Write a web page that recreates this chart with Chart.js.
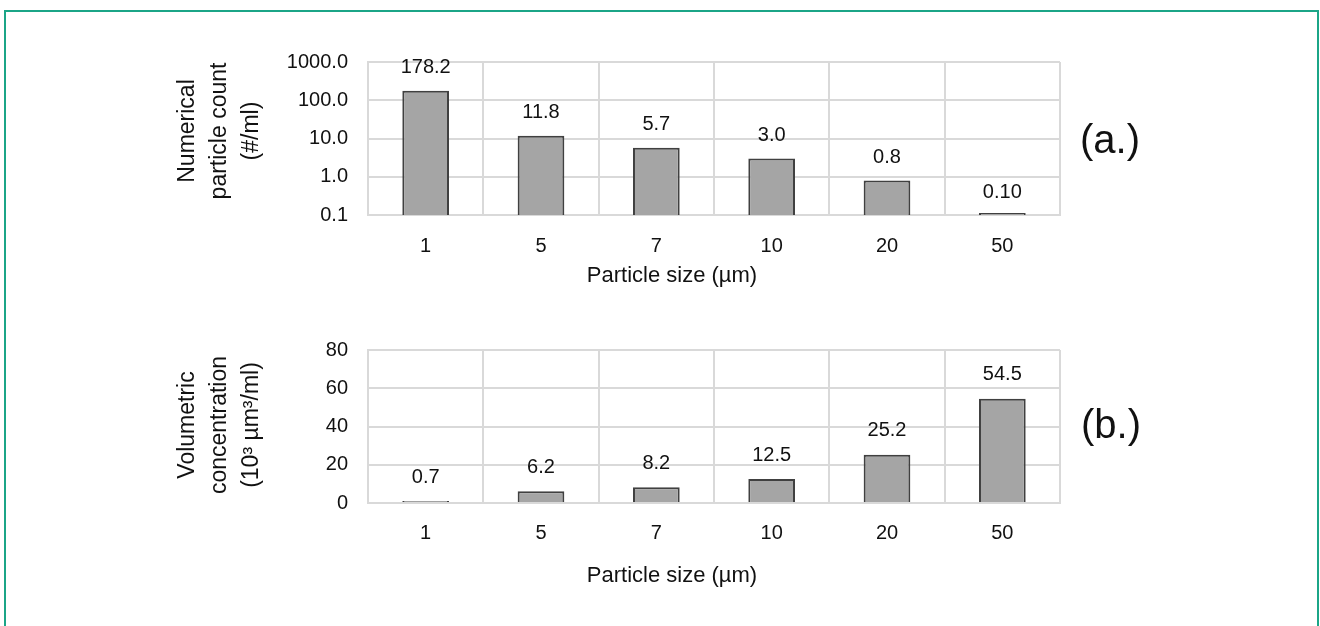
<!DOCTYPE html>
<html>
<head>
<meta charset="utf-8">
<script src="https://cdn.jsdelivr.net/npm/chart.js@4.4.1/dist/chart.umd.min.js"></script>
<style>
  html, body { margin: 0; padding: 0; background: #ffffff; }
  body { width: 1320px; height: 626px; position: relative; overflow: hidden; }
  #frame {
    position: absolute; left: 4px; top: 10px; width: 1311px; height: 700px;
    border: 2px solid #1ba587; border-bottom: none;
  }
  canvas { position: absolute; left: 0; }
  #countChart { top: 0; }
  #volumeChart { top: 300px; }
</style>
</head>
<body>
<div id="frame"></div>
<canvas id="countChart" width="1320" height="310"></canvas>
<canvas id="volumeChart" width="1320" height="326"></canvas>
<script>
// Particle size classes (µm)
const sizeLabels = ['1', '5', '7', '10', '20', '50'];
// (a.) numerical particle count, #/ml
const particleCounts = [178.2, 11.8, 5.7, 3.0, 0.8, 0.10];
// (b.) volumetric concentration, 10^3 µm^3/ml
const volumeConc = [0.7, 6.2, 8.2, 12.5, 25.2, 54.5];
// axis ticks
const countTicks = [0.1, 1, 10, 100, 1000];
const volumeTicks = [0, 20, 40, 60, 80];

const FONT = "'Liberation Sans', Arial, Helvetica, sans-serif";
const TEXT = '#111111';
const GRID = '#d9d9d9';

// value labels above each bar
const valueLabels = {
  id: 'valueLabels',
  afterDatasetsDraw(chart, args, opts) {
    const ctx = chart.ctx;
    const meta = chart.getDatasetMeta(0);
    const values = chart.data.datasets[0].data;
    const base = chart.scales.y.getPixelForValue(chart.scales.y.min);
    ctx.save();
    ctx.font = opts.font;
    ctx.fillStyle = TEXT;
    ctx.textAlign = 'center';
    ctx.textBaseline = 'middle';
    meta.data.forEach((bar, i) => {
      const top = chart.scales.y.getPixelForValue(values[i]);
      ctx.fillText(opts.format(values[i]), bar.x, Math.min(top, base) - opts.offset);
    });
    ctx.restore();
  }
};

// axis titles and panel tag
const captions = {
  id: 'captions',
  afterDraw(chart, args, opts) {
    const ctx = chart.ctx;
    ctx.save();
    ctx.fillStyle = TEXT;
    ctx.textAlign = 'center';
    ctx.textBaseline = 'middle';
    ctx.font = opts.titleFont;
    ctx.fillText(opts.xTitle, opts.xTitleX, opts.xTitleY);

    ctx.save();
    ctx.font = opts.yTitleFont;
    ctx.translate(opts.yTitleX, opts.yTitleY);
    ctx.rotate(-Math.PI / 2);
    const n = opts.yTitle.length;
    opts.yTitle.forEach((line, i) => {
      ctx.fillText(line, 0, (i - (n - 1) / 2) * opts.yTitleLine);
    });
    ctx.restore();

    ctx.font = opts.tagFont;
    ctx.fillText(opts.tag, opts.tagX, opts.tagY);
    ctx.restore();
  }
};

function barDataset(values) {
  return {
    data: values,
    backgroundColor: '#a5a5a5',
    borderColor: '#404040',
    borderWidth: 2,
    borderSkipped: 'start',
    minBarLength: 2,
    categoryPercentage: 1.0,
    barPercentage: 0.405
  };
}

function xScale(height, pad) {
  return {
    type: 'category',
    offset: true,
    grid: { color: GRID, lineWidth: 2, offset: true, drawTicks: false },
    border: { color: GRID, width: 2 },
    ticks: { color: TEXT, font: { family: FONT, size: 20 }, padding: pad, maxRotation: 0 },
    afterFit(scale) { scale.height = height; }
  };
}

Chart.defaults.font.family = FONT;
Chart.defaults.animation = false;

new Chart(document.getElementById('countChart'), {
  type: 'bar',
  data: { labels: sizeLabels, datasets: [barDataset(particleCounts)] },
  options: {
    responsive: false,
    devicePixelRatio: 1,
    layout: { padding: { left: 0, right: 260, top: 62, bottom: 0 } },
    scales: {
      x: xScale(95, 19),
      y: {
        type: 'logarithmic',
        min: 0.1,
        max: 1000,
        afterBuildTicks(scale) { scale.ticks = countTicks.map(v => ({ value: v })); },
        afterFit(scale) { scale.width = 368; },
        grid: { color: GRID, lineWidth: 2, drawTicks: false },
        border: { color: GRID, width: 2 },
        ticks: {
          color: TEXT, font: { family: FONT, size: 20 }, padding: 20,
          callback: v => Number(v).toFixed(1)
        }
      }
    },
    plugins: {
      legend: { display: false },
      tooltip: { enabled: false },
      valueLabels: {
        font: '20px ' + FONT, offset: 23,
        format: v => v >= 0.5 ? v.toFixed(1) : v.toFixed(2)
      },
      captions: {
        titleFont: '22px ' + FONT,
        xTitle: 'Particle size (µm)', xTitleX: 672, xTitleY: 276,
        yTitleFont: '23px ' + FONT,
        yTitle: ['Numerical', 'particle count', '(#/ml)'],
        yTitleX: 220, yTitleY: 131, yTitleLine: 32,
        tagFont: '40px ' + FONT, tag: '(a.)', tagX: 1110, tagY: 142
      }
    }
  },
  plugins: [valueLabels, captions]
});

new Chart(document.getElementById('volumeChart'), {
  type: 'bar',
  data: { labels: sizeLabels, datasets: [barDataset(volumeConc)] },
  options: {
    responsive: false,
    devicePixelRatio: 1,
    layout: { padding: { left: 0, right: 260, top: 50, bottom: 0 } },
    scales: {
      x: xScale(123, 18),
      y: {
        type: 'linear',
        min: 0,
        max: 80,
        afterBuildTicks(scale) { scale.ticks = volumeTicks.map(v => ({ value: v })); },
        afterFit(scale) { scale.width = 368; },
        grid: { color: GRID, lineWidth: 2, drawTicks: false },
        border: { color: GRID, width: 2 },
        ticks: { color: TEXT, font: { family: FONT, size: 20 }, padding: 20 }
      }
    },
    plugins: {
      legend: { display: false },
      tooltip: { enabled: false },
      valueLabels: {
        font: '20px ' + FONT, offset: 24,
        format: v => v.toFixed(1)
      },
      captions: {
        titleFont: '22px ' + FONT,
        xTitle: 'Particle size (µm)', xTitleX: 672, xTitleY: 276,
        yTitleFont: '23px ' + FONT,
        yTitle: ['Volumetric', 'concentration', '(10³ µm³/ml)'],
        yTitleX: 220, yTitleY: 125, yTitleLine: 32,
        tagFont: '40px ' + FONT, tag: '(b.)', tagX: 1111, tagY: 127
      }
    }
  },
  plugins: [valueLabels, captions]
});
</script>
</body>
</html>
